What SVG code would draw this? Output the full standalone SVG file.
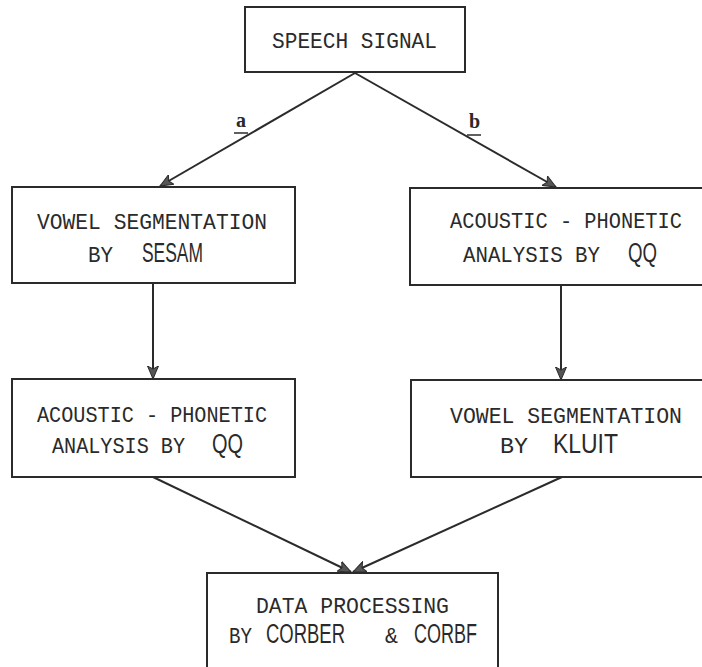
<svg xmlns="http://www.w3.org/2000/svg" width="702" height="667" viewBox="0 0 702 667">
<style>
.box{fill:none;stroke:#2b2b2b;stroke-width:2}
.t{font-family:"Liberation Mono","DejaVu Sans Mono",monospace;font-size:21.5px;fill:#2a2a2a}
.big{font-family:"Liberation Sans","DejaVu Sans",sans-serif;font-size:27px;fill:#2a2a2a}
.lbl{font-family:"Liberation Serif","DejaVu Serif",serif;font-size:20px;font-weight:bold;fill:#2a2a2a}
.c{fill:none;stroke:#2b2b2b;stroke-width:2;marker-end:url(#ah)}
.u{stroke:#2b2b2b;stroke-width:1.5}
</style>
<defs>
<marker id="ah" markerUnits="userSpaceOnUse" markerWidth="14" markerHeight="12" refX="13" refY="6" orient="auto">
<path d="M0,0.5 L13,6 L0,11.5 L3,6 z" fill="#555" stroke="#2b2b2b" stroke-width="1"/>
</marker>
</defs>
<rect width="702" height="667" fill="#ffffff"/>
<g id="connectors">
<line class="c" x1="355" y1="73" x2="160" y2="186"/>
<line class="c" x1="355" y1="73" x2="556" y2="187"/>
<line class="c" x1="153" y1="283" x2="153" y2="379"/>
<line class="c" x1="561" y1="285" x2="561" y2="380"/>
<line class="c" x1="153" y1="477" x2="351" y2="572"/>
<line class="c" x1="562" y1="477" x2="353" y2="572"/>
<text class="lbl" x="236" y="127">a</text>
<line class="u" x1="234" y1="133" x2="248" y2="133"/>
<text class="lbl" x="469" y="128">b</text>
<line class="u" x1="467" y1="135" x2="481" y2="135"/>
</g>
<g id="speech">
<rect class="box" x="245" y="7" width="220" height="65"/>
<text class="t" x="272" y="48" textLength="165" lengthAdjust="spacingAndGlyphs">SPEECH SIGNAL</text>
</g>
<g id="vowel-sesam">
<rect class="box" x="12" y="187" width="283" height="96"/>
<text class="t" x="37" y="229" textLength="230" lengthAdjust="spacingAndGlyphs">VOWEL SEGMENTATION</text>
<text class="t" x="88" y="262" textLength="25" lengthAdjust="spacingAndGlyphs">BY</text>
<text class="big" x="142" y="262" textLength="61" lengthAdjust="spacingAndGlyphs">SESAM</text>
</g>
<g id="acoustic-right">
<path class="box" d="M702,188 H410 V285 H702"/>
<text class="t" x="450" y="228" textLength="232" lengthAdjust="spacingAndGlyphs">ACOUSTIC - PHONETIC</text>
<text class="t" x="463" y="262" textLength="137" lengthAdjust="spacingAndGlyphs">ANALYSIS BY</text>
<text class="big" x="628" y="262" textLength="29" lengthAdjust="spacingAndGlyphs">QQ</text>
</g>
<g id="acoustic-left">
<rect class="box" x="12" y="379" width="283" height="98"/>
<text class="t" x="37" y="422" textLength="230" lengthAdjust="spacingAndGlyphs">ACOUSTIC - PHONETIC</text>
<text class="t" x="52" y="453" textLength="133" lengthAdjust="spacingAndGlyphs">ANALYSIS BY</text>
<text class="big" x="212" y="453" textLength="31" lengthAdjust="spacingAndGlyphs">QQ</text>
</g>
<g id="vowel-kluit">
<path class="box" d="M702,380 H411 V477 H702"/>
<text class="t" x="450" y="423" textLength="232" lengthAdjust="spacingAndGlyphs">VOWEL SEGMENTATION</text>
<text class="t" x="500" y="453" textLength="28" lengthAdjust="spacingAndGlyphs">BY</text>
<text class="big" x="553" y="453" textLength="65" lengthAdjust="spacingAndGlyphs">KLUIT</text>
</g>
<g id="data-processing">
<path class="box" d="M207,667 V573 H498 V667"/>
<text class="t" x="256" y="613" textLength="193" lengthAdjust="spacingAndGlyphs">DATA PROCESSING</text>
<text class="t" x="229" y="643" textLength="23" lengthAdjust="spacingAndGlyphs">BY</text>
<text class="big" x="266" y="643" textLength="79" lengthAdjust="spacingAndGlyphs">CORBER</text>
<text class="t" x="385" y="643" textLength="13" lengthAdjust="spacingAndGlyphs">&amp;</text>
<text class="big" x="414" y="643" textLength="63" lengthAdjust="spacingAndGlyphs">CORBF</text>
</g>
</svg>
